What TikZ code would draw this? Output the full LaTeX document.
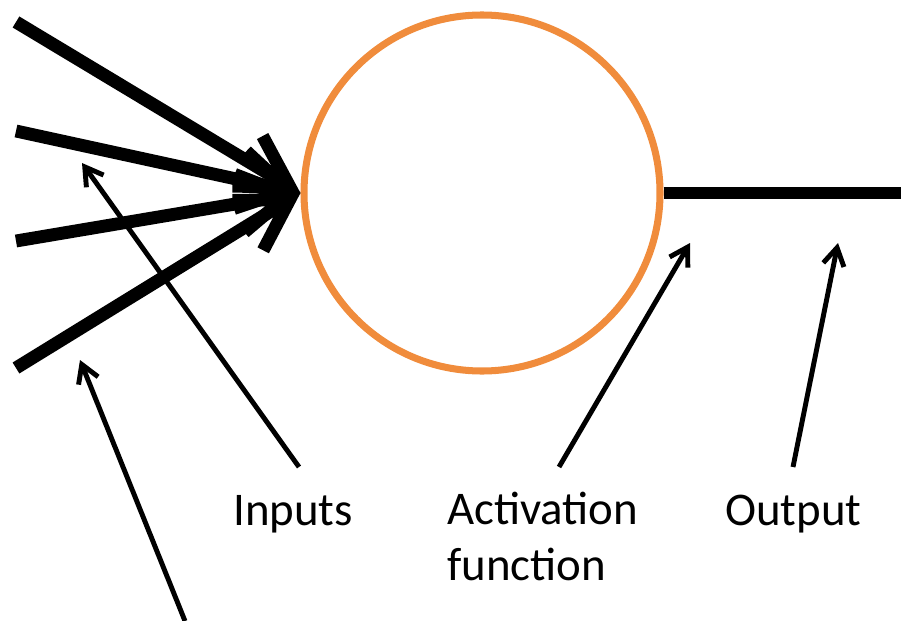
\documentclass[tikz,border=0pt]{standalone}
\usepackage{fontspec}
\setmainfont{Carlito}
\usetikzlibrary{arrows.meta}
\definecolor{neuronorange}{RGB}{240,140,60}

\begin{document}
\begin{tikzpicture}[x=0.03cm, y=-0.03cm,
					neuron/.style={draw=neuronorange, line width=6pt, circle, minimum size=10.68cm, inner sep=0pt},
					note/.style={font=\fontsize{40}{47}\selectfont, inner sep=0pt, anchor=base west, align=left},
					wire/.style={line width=11pt, -{Straight Barb[length=42pt,width=50pt]}},
					pointer/.style={line width=4.2pt, -{Straight Barb[length=15pt,width=18pt]}}]
    \useasboundingbox (0,0) rectangle (901,621);
    % Place nodes
    \node [neuron] (N) at (482,193) {};
    \node [note] (I) at (233,525) {Inputs};
    \node [note] (A) at (447,580) {Activation\\function};
    \node [note] (O) at (725,525) {Output};
    % Free ends
    \coordinate (x1) at (16,22);
    \coordinate (x2) at (16,131);
    \coordinate (x3) at (16,241);
    \coordinate (x4) at (16,368);
    \coordinate (y) at (901,193);
    \coordinate (tI) at (299,467);
    \coordinate (hI) at (82,163);
    \coordinate (tW) at (185,621);
    \coordinate (hW) at (80,360);
    \coordinate (tA) at (559,467);
    \coordinate (hA) at (690,243);
    \coordinate (tO) at (793,467);
    \coordinate (hO) at (838,243);
    % Draw edges
    \draw[wire] (x1) -- (N.west);
    \draw[wire] (x2) -- (N.west);
    \draw[wire] (x3) -- (N.west);
    \draw[wire] (x4) -- (N.west);
    \draw[line width=11pt] (N.east) -- (y);
    \draw[pointer] (tI) -- (hI);
    \draw[pointer] (tW) -- (hW);
    \draw[pointer] (tA) -- (hA);
    \draw[pointer] (tO) -- (hO);
\end{tikzpicture}
\end{document}
